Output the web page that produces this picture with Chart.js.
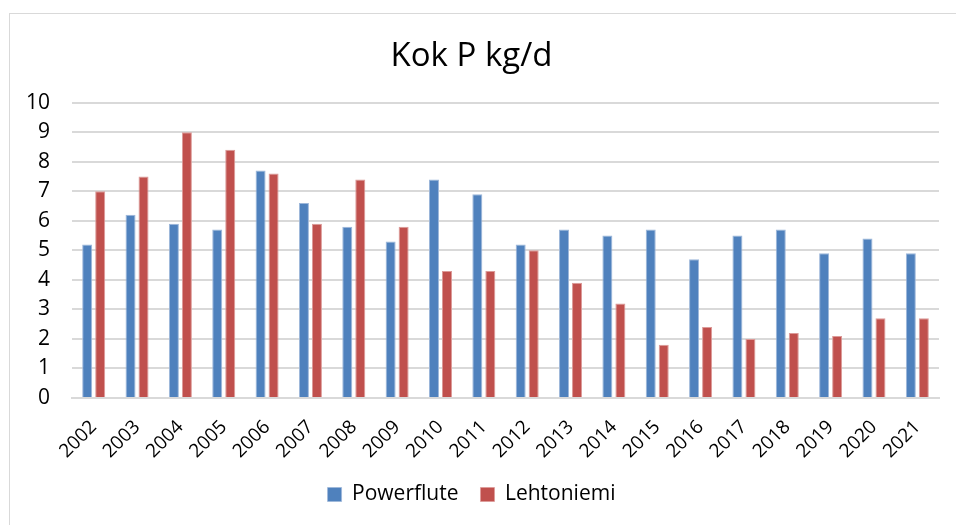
<!DOCTYPE html>
<html>
<head>
<meta charset="utf-8">
<script src="https://cdn.jsdelivr.net/npm/chart.js@4"></script>
<style>
  html, body { margin: 0; padding: 0; background: #fff; }
  #wrap { position: relative; width: 956px; height: 525px; overflow: hidden; }
  #frame { position: absolute; left: 9px; top: 13px; width: 960px; height: 530px;
           border: 1px solid #d9d9d9; box-sizing: border-box; }
  #chart { position: absolute; left: 0; top: 0; }
</style>
</head>
<body>
<div id="wrap">
  <div id="frame"></div>
  <canvas id="chart" width="956" height="525"></canvas>
</div>
<script>
// years on the x axis
const years = ["2002", "2003", "2004", "2005", "2006", "2007", "2008", "2009", "2010", "2011",
               "2012", "2013", "2014", "2015", "2016", "2017", "2018", "2019", "2020", "2021"];

// Kok P kg/d per year
const powerflute = [5.2, 6.2, 5.9, 5.7, 7.7, 6.6, 5.8, 5.3, 7.4, 6.9,
                    5.2, 5.7, 5.5, 5.7, 4.7, 5.5, 5.7, 4.9, 5.4, 4.9];
const lehtoniemi = [7.0, 7.5, 9.0, 8.4, 7.6, 5.9, 7.4, 5.8, 4.3, 4.3,
                    5.0, 3.9, 3.2, 1.8, 2.4, 2.0, 2.2, 2.1, 2.7, 2.7];

const fontFamily = "'Open Sans', 'Liberation Sans', sans-serif";

new Chart(document.getElementById('chart').getContext('2d'), {
  type: 'bar',
  data: {
    labels: years,
    datasets: [
      {
        label: 'Powerflute',
        data: powerflute,
        backgroundColor: '#4F81BD',
        borderColor: '#9DB7DA',
        borderWidth: { top: 1, left: 1, right: 1, bottom: 0 },
        categoryPercentage: 0.6,
        barPercentage: 0.77
      },
      {
        label: 'Lehtoniemi',
        data: lehtoniemi,
        backgroundColor: '#C0504D',
        borderColor: '#DC9A98',
        borderWidth: { top: 1, left: 1, right: 1, bottom: 0 },
        categoryPercentage: 0.6,
        barPercentage: 0.77
      }
    ]
  },
  options: {
    responsive: false,
    animation: false,
    layout: {
      autoPadding: false,
      padding: { left: 4, right: 17, top: 22, bottom: 10 }
    },
    plugins: {
      title: {
        display: true,
        text: 'Kok P kg/d',
        color: '#000',
        font: { family: fontFamily, size: 33, weight: 'normal' },
        padding: { top: 15, bottom: 26 }
      },
      legend: {
        position: 'bottom',
        labels: {
          color: '#000',
          font: { family: fontFamily, size: 21 },
          boxWidth: 14,
          boxHeight: 14,
          padding: 22
        }
      },
      tooltip: { enabled: false }
    },
    scales: {
      x: {
        grid: { display: false, drawTicks: false },
        border: { display: true, color: '#d9d9d9', width: 2 },
        ticks: {
          color: '#000',
          font: { family: fontFamily, size: 19 },
          maxRotation: 45,
          minRotation: 45,
          padding: 18
        },
        afterFit: (scale) => { scale.height = 64; }
      },
      y: {
        min: 0,
        max: 10,
        ticks: {
          stepSize: 1,
          color: '#000',
          font: { family: fontFamily, size: 21 },
          padding: 22
        },
        grid: { color: '#d9d9d9', lineWidth: 2, drawTicks: false },
        border: { display: false }
      }
    }
  }
});
</script>
</body>
</html>
